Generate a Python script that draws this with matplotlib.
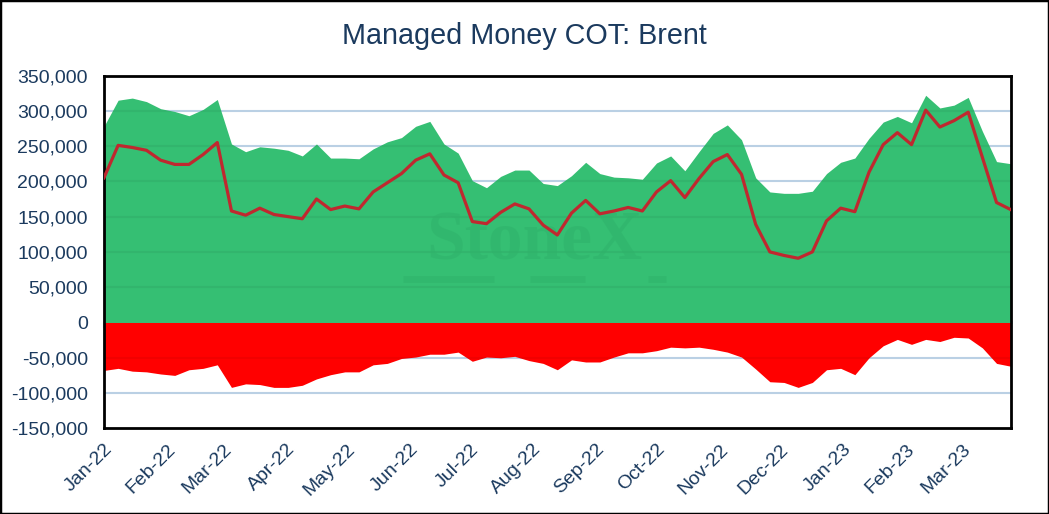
import matplotlib
matplotlib.use('Agg')
import matplotlib.pyplot as plt
import matplotlib.dates as mdates
from matplotlib.ticker import FuncFormatter, MultipleLocator
from matplotlib.patches import Rectangle
import pandas as pd

plt.rcParams['font.family'] = ['Liberation Sans', 'DejaVu Sans']

# weekly COT report dates (Tuesdays)
dates = pd.date_range('2022-01-04', periods=65, freq='7D')

# managed money positions, thousands of contracts
long_k = [278, 315, 318, 313, 303, 299, 293, 302, 316, 253, 242, 249, 247, 244, 236, 253,
          233, 233, 232, 246, 256, 262, 278,
          285, 253, 240, 201, 191, 207, 216, 216, 197, 194, 208, 227, 211, 206, 205, 203,
          226, 236, 215, 242, 268, 280,
          259, 205, 185, 183, 183, 186, 211, 227, 233, 261, 284, 292, 283, 322, 304, 308,
          319, 271, 228, 225]
short_k = [-68, -65, -69, -70, -73, -75, -67, -65, -60, -92, -87, -88, -92, -92, -89, -80,
           -74, -70, -70, -60, -58, -51, -49,
           -45, -45, -42, -55, -49, -50, -48, -54, -58, -67, -53, -56, -56, -49, -43, -43,
           -40, -35, -36, -35, -38, -42,
           -49, -66, -84, -85, -92, -85, -67, -65, -74, -50, -33, -24, -31, -24, -27, -21,
           -22, -36, -58, -62]
net_k = [205, 251, 248, 244, 230, 224, 224, 238, 255, 158, 152, 162, 153, 150, 147, 175,
         160, 165, 161, 185, 198, 211, 230,
         239, 209, 198, 143, 140, 156, 168, 161, 138, 124, 155, 173, 154, 158, 163, 158,
         185, 201, 177, 204, 228, 238,
         210, 139, 100, 95, 91, 100, 144, 162, 157, 213, 252, 269, 252, 301, 277, 286,
         298, 234, 170, 160]

long_pos = [v * 1000 for v in long_k]
short_pos = [v * 1000 for v in short_k]
net_pos = [v * 1000 for v in net_k]

tick_dates = [pd.Timestamp(2022 + m // 12, m % 12 + 1, 4) for m in range(15)]

ymin, ymax = -150000, 350000
navy = '#1B3A5E'
grid_blue = '#C5DCF1'

fig = plt.figure(figsize=(10.49, 5.14), dpi=100)
ax = fig.add_axes([0.0991, 0.1667, 0.8644, 0.6864])

for yv in range(-100000, 350001, 50000):
    if yv != 0:
        ax.axhline(yv, color=grid_blue, lw=1.5, zorder=0)

ax.fill_between(dates, 0, long_pos, color='#35BF73', lw=0, zorder=1)
ax.fill_between(dates, 0, short_pos, color='#FF0000', lw=0, zorder=1)

# faint grid showing through the fill
for yv in range(-100000, 350001, 50000):
    if yv != 0:
        ax.axhline(yv, color='black', alpha=0.05, lw=1.5, zorder=2)

# watermark
wm = '#2FB26A'
ax.text(0.475, 0.528, 'StoneX', transform=ax.transAxes, family='Liberation Serif',
        fontsize=50, fontweight='bold', color=wm, alpha=0.55,
        ha='center', va='center', zorder=2)
for x0, x1 in [(0.33, 0.43), (0.47, 0.53), (0.60, 0.62)]:
    ax.plot([x0, x1], [0.423, 0.423], transform=ax.transAxes, color=wm,
            lw=5, alpha=0.5, solid_capstyle='butt', zorder=2)

ax.plot(dates, net_pos, color='#C0282F', lw=2.3, zorder=3)

ax.set_xlim(dates[0], dates[-1])
ax.set_ylim(ymin, ymax)
ax.yaxis.set_major_locator(MultipleLocator(50000))
ax.yaxis.set_major_formatter(FuncFormatter(lambda v, p: f'{v:,.0f}'))
ax.set_xticks(tick_dates)
ax.xaxis.set_major_formatter(mdates.DateFormatter('%b-%y'))
ax.tick_params(axis='both', length=0, labelsize=14, labelcolor=navy)
ax.tick_params(axis='y', pad=11.5)
ax.tick_params(axis='x', pad=9)
for lab in ax.get_xticklabels():
    lab.set_rotation(45)
    lab.set_ha('right')
    lab.set_rotation_mode('anchor')

for sp in ax.spines.values():
    sp.set_linewidth(2)
    sp.set_color('black')

# zero axis line with month ticks
zero_frac = (0 - ymin) / (ymax - ymin)
sec = ax.secondary_xaxis(zero_frac)
sec.set_xticks(tick_dates)
sec.tick_params(axis='x', direction='out', length=4, width=1.5, color=grid_blue,
                labelbottom=False, labeltop=False, bottom=True, top=False)
sec.spines['bottom'].set_color(grid_blue)
sec.spines['bottom'].set_linewidth(2)
sec.spines['top'].set_visible(False)

fig.text(0.5, 0.93, 'Managed Money COT: Brent', ha='center', va='center',
         fontsize=20.7, color=navy)

fig.add_artist(Rectangle((0, 0), 1, 1, transform=fig.transFigure, fill=False,
                         edgecolor='black', lw=2.5))

fig.savefig('out.png', dpi=100)
